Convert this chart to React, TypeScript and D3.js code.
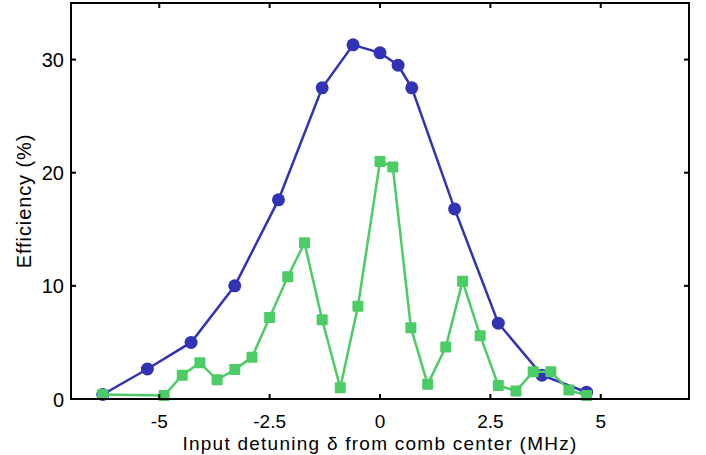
import React, { useRef, useEffect } from 'react';
import * as d3 from 'd3';

// data
const blueX = [-6.28, -5.27, -4.28, -3.29, -2.3, -1.31, -0.61, 0, 0.41, 0.72, 1.69, 2.68, 3.67, 4.68];
const blueY = [0.4, 2.65, 5.0, 10.0, 17.6, 27.5, 31.3, 30.6, 29.5, 27.5, 16.8, 6.7, 2.1, 0.6];
const greenX = [-6.28, -4.89, -4.48, -4.08, -3.69, -3.29, -2.9, -2.5, -2.09, -1.71, -1.31, -0.9, -0.5, 0, 0.29, 0.7, 1.08, 1.49, 1.87, 2.27, 2.68, 3.08, 3.47, 3.87, 4.28, 4.68];
const greenY = [0.4, 0.3, 2.1, 3.2, 1.7, 2.6, 3.7, 7.2, 10.8, 13.8, 7.0, 1.0, 8.2, 21.0, 20.5, 6.3, 1.3, 4.6, 10.4, 5.6, 1.2, 0.7, 2.4, 2.4, 0.8, 0.3];
const xTicks = [-5, -2.5, 0, 2.5, 5];
const yTicks = [0, 10, 20, 30];

function App() {
  const svgRef = useRef<SVGSVGElement>(null);

  useEffect(() => {
    const svg = d3.select(svgRef.current);
    svg.selectAll('*').remove();

    const width = 706;
    const height = 455;
    const margin = { top: 3, right: 17, bottom: 56, left: 71 };
    const font = 'Liberation Sans, Arial, sans-serif';

    const x = d3.scaleLinear().domain([-7, 7]).range([margin.left, width - margin.right]);
    const y = d3.scaleLinear().domain([0, 35]).range([height - margin.bottom, margin.top]);

    const blue = '#3232b4';
    const green = '#4ccc64';

    const line = d3.line<[number, number]>().x(d => x(d[0])).y(d => y(d[1]));
    const blueData = blueX.map((v, i) => [v, blueY[i]] as [number, number]);
    const greenData = greenX.map((v, i) => [v, greenY[i]] as [number, number]);

    // blue series
    svg.append('path')
      .datum(blueData)
      .attr('d', line)
      .attr('fill', 'none')
      .attr('stroke', blue)
      .attr('stroke-width', 2.5);
    svg.selectAll('.dot')
      .data(blueData)
      .enter()
      .append('circle')
      .attr('cx', d => x(d[0]))
      .attr('cy', d => y(d[1]))
      .attr('r', 6.5)
      .attr('fill', blue);

    // green series
    svg.append('path')
      .datum(greenData)
      .attr('d', line)
      .attr('fill', 'none')
      .attr('stroke', green)
      .attr('stroke-width', 2.5);
    const s = 11;
    svg.selectAll('.sq')
      .data(greenData)
      .enter()
      .append('rect')
      .attr('x', d => x(d[0]) - s / 2)
      .attr('y', d => y(d[1]) - s / 2)
      .attr('width', s)
      .attr('height', s)
      .attr('rx', 1)
      .attr('fill', green);

    // frame
    svg.append('rect')
      .attr('x', margin.left)
      .attr('y', margin.top)
      .attr('width', width - margin.left - margin.right)
      .attr('height', height - margin.top - margin.bottom)
      .attr('fill', 'none')
      .attr('stroke', '#000')
      .attr('stroke-width', 2);

    const tl = 5;
    // x ticks
    xTicks.forEach(t => {
      svg.append('line')
        .attr('x1', x(t)).attr('x2', x(t))
        .attr('y1', y(0)).attr('y2', y(0) - tl)
        .attr('stroke', '#000').attr('stroke-width', 2);
      svg.append('line')
        .attr('x1', x(t)).attr('x2', x(t))
        .attr('y1', margin.top).attr('y2', margin.top + tl)
        .attr('stroke', '#000').attr('stroke-width', 2);
      svg.append('text')
        .attr('x', x(t))
        .attr('y', y(0) + 29)
        .attr('text-anchor', 'middle')
        .attr('font-family', font)
        .attr('font-size', 19)
        .text(String(t));
    });

    // y ticks
    yTicks.forEach(t => {
      svg.append('line')
        .attr('x1', margin.left).attr('x2', margin.left + tl)
        .attr('y1', y(t)).attr('y2', y(t))
        .attr('stroke', '#000').attr('stroke-width', 2);
      svg.append('line')
        .attr('x1', width - margin.right).attr('x2', width - margin.right - tl)
        .attr('y1', y(t)).attr('y2', y(t))
        .attr('stroke', '#000').attr('stroke-width', 2);
      svg.append('text')
        .attr('x', margin.left - 7)
        .attr('y', y(t) + 7.5)
        .attr('text-anchor', 'end')
        .attr('font-family', font)
        .attr('font-size', 20)
        .text(String(t));
    });

    // axis labels
    svg.append('text')
      .attr('x', x(0))
      .attr('y', 450)
      .attr('text-anchor', 'middle')
      .attr('font-family', font)
      .attr('font-size', 19)
      .attr('letter-spacing', 1.25)
      .text('Input detuning δ from comb center (MHz)');
    svg.append('text')
      .attr('transform', `translate(31, ${(margin.top + height - margin.bottom) / 2}) rotate(-90)`)
      .attr('text-anchor', 'middle')
      .attr('font-family', font)
      .attr('font-size', 20)
      .attr('letter-spacing', 0.9)
      .text('Efficiency (%)');
  }, []);

  return (
    <svg
      ref={svgRef}
      width={706}
      height={455}
      style={{ position: 'absolute', left: 0, top: 0, background: '#fff' }}
    />
  );
}

export default App;
